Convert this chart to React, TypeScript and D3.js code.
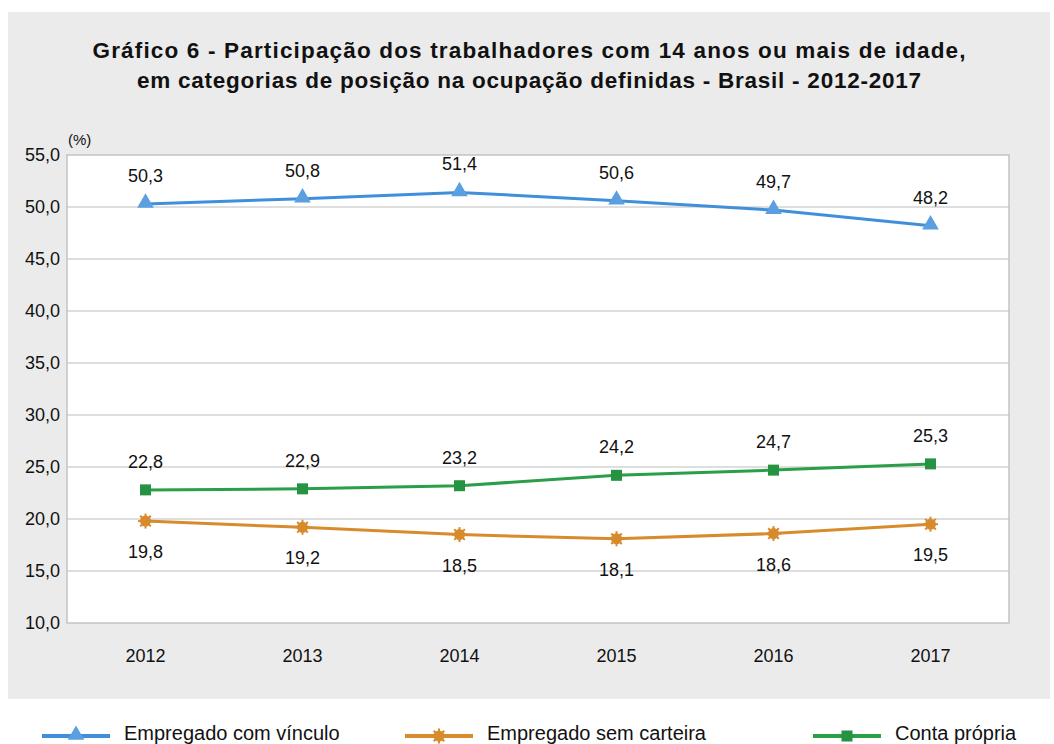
import React, { useEffect, useRef } from "react";
import * as d3 from "d3";

const years = ["2012", "2013", "2014", "2015", "2016", "2017"];
const comVinculo = [50.3, 50.8, 51.4, 50.6, 49.7, 48.2];
const semCarteira = [19.8, 19.2, 18.5, 18.1, 18.6, 19.5];
const contaPropria = [22.8, 22.9, 23.2, 24.2, 24.7, 25.3];
const yTicks = [10, 15, 20, 25, 30, 35, 40, 45, 50, 55];
const titleLines = [
  "Gráfico 6 - Participação dos trabalhadores com 14 anos ou mais de idade,",
  "em categorias de posição na ocupação definidas - Brasil - 2012-2017",
];
const titleWidths = [873, 784];

const series = [
  { name: "Empregado com vínculo", values: comVinculo, color: "#3f8fdb", marker: "triangle", labelPos: "above" },
  { name: "Empregado sem carteira", values: semCarteira, color: "#d88b2c", marker: "star", labelPos: "below" },
  { name: "Conta própria", values: contaPropria, color: "#2a9e48", marker: "square", labelPos: "above" },
];

const fmt = (v: number) => d3.format(".1f")(v).replace(".", ",");
const FONT = "'Liberation Sans', Arial, sans-serif";

function drawMarker(g: any, type: string, x: number, y: number, color: string) {
  if (type === "triangle") {
    g.append("path")
      .attr("d", d3.symbol().type(d3.symbolTriangle).size(120)())
      .attr("transform", `translate(${x},${y - 1})`)
      .attr("fill", "#5b9fe0");
  } else if (type === "square") {
    g.append("rect")
      .attr("x", x - 5.5).attr("y", y - 5.5)
      .attr("width", 11).attr("height", 11)
      .attr("fill", "#259341");
  } else {
    g.append("circle").attr("cx", x).attr("cy", y).attr("r", 5.5).attr("fill", color);
    for (let i = 0; i < 8; i++) {
      const a = (i * Math.PI) / 4;
      g.append("line")
        .attr("x1", x).attr("y1", y)
        .attr("x2", x + 7.5 * Math.cos(a)).attr("y2", y + 7.5 * Math.sin(a))
        .attr("stroke", color).attr("stroke-width", 2);
    }
  }
}

export default function App() {
  const ref = useRef<SVGSVGElement>(null);

  useEffect(() => {
    const svg = d3.select(ref.current);
    svg.selectAll("*").remove();

    const left = 67, right = 1009, top = 155, bottom = 623;

    svg.append("rect")
      .attr("x", 8).attr("y", 12).attr("width", 1042).attr("height", 687)
      .attr("fill", "#ebebeb");

    titleLines.forEach((t, i) => {
      svg.append("text")
        .attr("x", 529).attr("y", 58 + i * 30)
        .attr("text-anchor", "middle")
        .attr("font-family", FONT).attr("font-weight", "bold")
        .attr("font-size", 22.5).attr("fill", "#111")
        .attr("textLength", titleWidths[i]).attr("lengthAdjust", "spacing")
        .text(t);
    });

    const x = d3.scaleBand().domain(years).range([left, right]);
    const y = d3.scaleLinear().domain([10, 55]).range([bottom, top]);

    svg.append("rect")
      .attr("x", left).attr("y", top)
      .attr("width", right - left).attr("height", bottom - top)
      .attr("fill", "#fff").attr("stroke", "#c4c4c4").attr("stroke-width", 1.5);

    svg.append("g").selectAll("line")
      .data(yTicks.slice(1, -1))
      .join("line")
      .attr("x1", left).attr("x2", right)
      .attr("y1", (d) => y(d)).attr("y2", (d) => y(d))
      .attr("stroke", "#bdbdbd").attr("stroke-width", 1);

    svg.append("g").selectAll("text")
      .data(yTicks)
      .join("text")
      .attr("x", left - 7).attr("y", (d) => y(d) + 6)
      .attr("text-anchor", "end")
      .attr("font-family", FONT).attr("font-size", 18).attr("fill", "#111")
      .text((d) => fmt(d));

    svg.append("text")
      .attr("x", left + 1).attr("y", 145)
      .attr("font-family", FONT).attr("font-size", 15).attr("fill", "#111")
      .text("(%)");

    svg.append("g").selectAll("text")
      .data(years)
      .join("text")
      .attr("x", (d) => x(d)! + x.bandwidth() / 2).attr("y", 662)
      .attr("text-anchor", "middle")
      .attr("font-family", FONT).attr("font-size", 18).attr("fill", "#111")
      .text((d) => d);

    const cx = (i: number) => x(years[i])! + x.bandwidth() / 2;

    series.forEach((s) => {
      const g = svg.append("g");
      const line = d3.line<number>().x((_, i) => cx(i)).y((d) => y(d));
      g.append("path")
        .attr("d", line(s.values))
        .attr("fill", "none").attr("stroke", s.color).attr("stroke-width", 3);
      s.values.forEach((v, i) => drawMarker(g, s.marker, cx(i), y(v), s.color));
      g.selectAll("text.lbl")
        .data(s.values)
        .join("text")
        .attr("class", "lbl")
        .attr("x", (_, i) => cx(i))
        .attr("y", (d) => (s.labelPos === "above" ? y(d) - 22 : y(d) + 37))
        .attr("text-anchor", "middle")
        .attr("font-family", FONT).attr("font-size", 18).attr("fill", "#111")
        .text((d) => fmt(d));
    });

    // legend
    const legendX = [42, 405, 813];
    series.forEach((s, i) => {
      const g = svg.append("g");
      const lx = legendX[i];
      g.append("line")
        .attr("x1", lx).attr("x2", lx + 68)
        .attr("y1", 736).attr("y2", 736)
        .attr("stroke", s.color).attr("stroke-width", 4);
      drawMarker(g, s.marker, lx + 34, 736, s.color);
      g.append("text")
        .attr("x", lx + 82).attr("y", 740)
        .attr("font-family", FONT).attr("font-size", 20).attr("fill", "#111")
        .text(s.name);
    });
  }, []);

  return (
    <svg
      ref={ref}
      width={1054}
      height={744}
      style={{ position: "absolute", left: 0, top: 0, background: "#fff" }}
    />
  );
}
